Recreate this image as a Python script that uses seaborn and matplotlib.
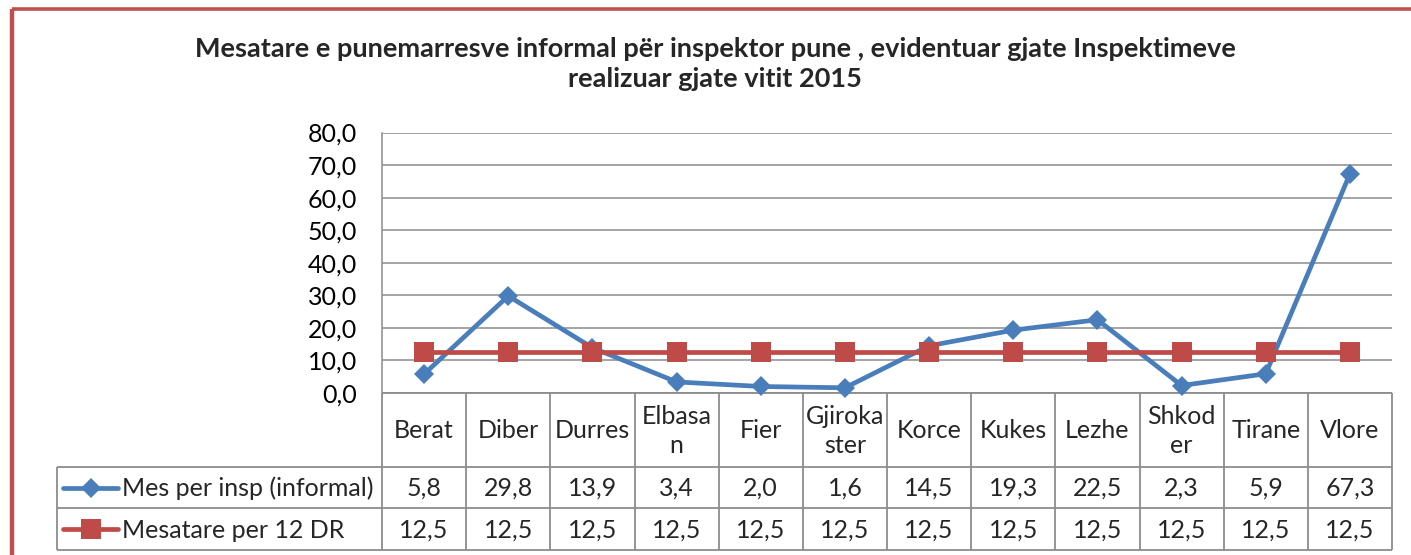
import matplotlib
matplotlib.use("Agg")
import matplotlib.pyplot as plt
import matplotlib.transforms as mtransforms
import seaborn as sns
import pandas as pd

# chart data
regions = ["Berat", "Diber", "Durres", "Elbasan", "Fier", "Gjirokaster",
           "Korce", "Kukes", "Lezhe", "Shkoder", "Tirane", "Vlore"]
header_labels = ["Berat", "Diber", "Durres", "Elbasa\nn", "Fier", "Gjiroka\nster",
                 "Korce", "Kukes", "Lezhe", "Shkod\ner", "Tirane", "Vlore"]
informal = [5.8, 29.8, 13.9, 3.4, 2.0, 1.6, 14.5, 19.3, 22.5, 2.3, 5.9, 67.3]
average = [12.5] * 12
series_names = ["Mes per insp (informal)", "Mesatare per 12 DR"]
y_ticks = [0, 10, 20, 30, 40, 50, 60, 70, 80]
title = ("Mesatare e punemarresve informal për inspektor pune , evidentuar gjate Inspektimeve\n"
         "realizuar gjate vitit 2015")

BLUE = "#4A7EBB"
RED = "#BE4B48"
GRID = "#8C8C8C"
BORDER = "#C0504D"
W, H = 1411, 555
FS = 18


def fmt(v):
    return f"{v:.1f}".replace(".", ",")


sns.set_style("white")
plt.rcParams["font.family"] = ["Lato", "DejaVu Sans"]

fig = plt.figure(figsize=(W / 100, H / 100), dpi=100)

# overlay in pixel coordinates for the table grid and border
tab = fig.add_axes([0, 0, 1, 1], zorder=0)
tab.set_xlim(0, W)
tab.set_ylim(H, 0)
tab.axis("off")

# plot area
top, bottom, left, right = 132.5, 393, 382, 1392
ax = fig.add_axes([left / W, 1 - bottom / H, (right - left) / W, (bottom - top) / H], zorder=1)
ax.patch.set_visible(False)

df = pd.DataFrame({
    "pos": list(range(len(regions))) * 2,
    "value": informal + average,
    "series": [series_names[0]] * len(regions) + [series_names[1]] * len(regions),
})
sns.lineplot(data=df, x="pos", y="value", hue="series", style="series",
             markers={series_names[0]: "D", series_names[1]: "s"}, dashes=False,
             palette={series_names[0]: BLUE, series_names[1]: RED},
             linewidth=3.4, legend=False, ax=ax)
for line, ms in zip(ax.lines, [10, 14]):
    line.set_markersize(ms)
    line.set_markeredgewidth(0)
    line.set_clip_on(False)

ax.set_xlim(-0.5, len(regions) - 0.5)
ax.set_ylim(0, 80)
ax.set_yticks(y_ticks)
ax.set_yticklabels([fmt(v) for v in y_ticks])
ax.set_xticks([])
ax.set_xlabel("")
ax.set_ylabel("")
ax.tick_params(axis="y", length=0, pad=18, labelsize=FS, colors="black")
ax.yaxis.grid(True, color=GRID, linewidth=1.1)
for s in ["top", "right", "bottom"]:
    ax.spines[s].set_visible(False)
ax.spines["left"].set_color(GRID)
ax.spines["left"].set_linewidth(1.1)

tab.text(715, 64, title, ha="center", va="center", fontsize=19.5, fontweight="bold",
         linespacing=1.3)

# data table below the plot
blend = mtransforms.blended_transform_factory(ax.transData, tab.transData)
row_y = [393, 467, 508, 550]
tbl_left = 57
grid_kw = dict(color=GRID, linewidth=1.3, solid_capstyle="butt")
n = len(regions)
tab.plot([left, right], [row_y[0], row_y[0]], **grid_kw)
for y in row_y[1:]:
    tab.plot([tbl_left, right], [y, y], **grid_kw)
for i in range(n + 1):
    tab.plot([i - 0.5, i - 0.5], [row_y[0], row_y[3]], transform=blend, **grid_kw)
tab.plot([tbl_left, tbl_left], [row_y[1], row_y[3]], **grid_kw)

for i, lab in enumerate(header_labels):
    tab.text(i, (row_y[0] + row_y[1]) / 2 + 1, lab, transform=blend, ha="center", va="center",
             fontsize=FS, linespacing=1.35)
for r, vals in enumerate([informal, average]):
    yc = (row_y[r + 1] + row_y[r + 2]) / 2 + 1
    for i, v in enumerate(vals):
        tab.text(i, yc, fmt(v), transform=blend, ha="center", va="center", fontsize=FS)

# legend keys inside the table
for r, (name, color, mk, ms) in enumerate(zip(series_names, [BLUE, RED], ["D", "s"], [10, 14])):
    yc = (row_y[r + 1] + row_y[r + 2]) / 2
    tab.plot([63, 118], [yc, yc], color=color, linewidth=3.4, solid_capstyle="round")
    tab.plot([90.5], [yc], marker=mk, markersize=ms, color=color, markeredgewidth=0)
    tab.text(122, yc + 1, name, ha="left", va="center", fontsize=FS)

# chart border (red frame of the embedded chart)
tab.plot([11.7, W], [9, 9], color=BORDER, linewidth=2.6, solid_capstyle="butt")
tab.plot([11.7, 11.7], [9, H], color=BORDER, linewidth=3.2, solid_capstyle="butt")

fig.savefig("out.png", dpi=100)
